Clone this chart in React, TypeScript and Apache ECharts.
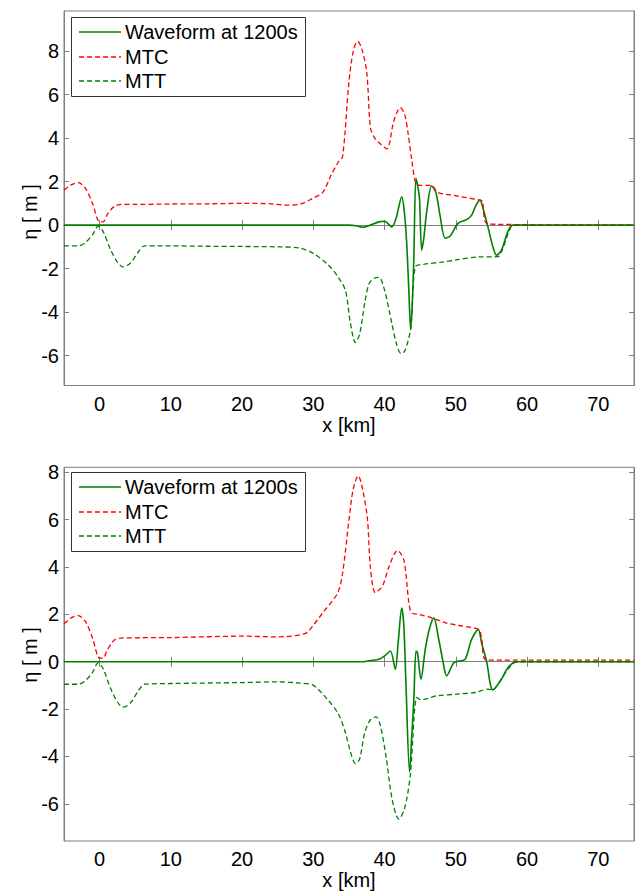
import React, { useEffect, useRef } from "react";
import * as echarts from "echarts";

const xTicks = [0, 10, 20, 30, 40, 50, 60, 70];
const yTicks = [-6, -4, -2, 0, 2, 4, 6, 8];
const legendNames = ["Waveform at 1200s", "MTC", "MTT"];
const yName = "η [ m ]";

// Top panel
const topWave = [
  [-5, 0], [30, 0], [35, 0], [36, -0.03], [37, -0.1], [38, 0], [39.2, 0.15], [40, 0.18], [41, -0.08],
  [41.6, 0.3], [42.4, 1.3], [42.8, 0.5], [43.1, -0.84], [43.4, -3.0], [43.65, -4.8], [43.9, -3.5],
  [44.1, -1.5], [44.4, 2.15], [44.7, 1.7], [44.9, 1.2], [45.2, -1.15], [45.5, -0.6], [45.9, 0.6],
  [46.6, 1.8], [47.2, 1.5], [47.8, 0.4], [48.5, -0.6], [49.2, -0.5], [50.3, 0.08], [51.5, 0.25],
  [52.2, 0.45], [52.8, 0.9], [53.4, 1.15], [53.7, 0.9], [54.5, -0.08], [55.2, -1.0], [55.7, -1.38],
  [56.4, -1.15], [57.3, -0.3], [58, 0], [75, 0],
];
const topMTC = [
  [-5, 1.6], [-4, 1.85], [-3, 1.95], [-2, 1.7], [-1, 1.0], [0, 0.15], [0.5, 0.15], [1, 0.45], [2, 0.85],
  [3, 0.95], [5, 0.95], [10, 0.97], [15, 0.98], [20, 1.0], [24, 0.98], [26, 0.92], [28, 0.95], [30, 1.25],
  [31.3, 1.5], [32.5, 2.3], [33.5, 2.9], [34.1, 3.15], [35, 6.6], [35.6, 8.0], [36.2, 8.45], [36.8, 8.1],
  [37.5, 7.0], [38, 4.5], [38.6, 4.0], [39.2, 3.8], [40.3, 3.5], [41.3, 4.8], [42.2, 5.4], [42.8, 5.1],
  [43.3, 4.2], [43.8, 3.0], [44.3, 2.0], [44.7, 1.84], [46.6, 1.82], [47.5, 1.5], [50, 1.35], [53.3, 1.15],
  [53.7, 1.1], [54.5, 0.05], [75, 0],
];
const topMTT = [
  [-5, -0.95], [-3, -0.95], [-2, -0.8], [-1, -0.45], [-0.2, -0.05], [0.5, -0.3], [1.5, -1.1], [2.5, -1.7],
  [3.3, -1.92], [4.3, -1.75], [5.5, -1.2], [6.3, -0.95], [8, -0.95], [15, -0.97], [20, -0.98], [25, -1.0],
  [28, -1.05], [30, -1.3], [32, -1.8], [33.5, -2.4], [34.5, -3.0], [35.2, -4.5], [35.9, -5.4], [36.5, -5.0],
  [37.2, -3.6], [37.8, -2.7], [38.5, -2.45], [39.2, -2.4], [40, -3.0], [41, -4.5], [41.7, -5.5], [42.3, -5.9],
  [42.8, -5.8], [43.3, -5.3], [43.7, -4.7], [44.3, -1.92], [45.5, -1.8], [48, -1.7], [50, -1.6], [53.2, -1.46],
  [55.9, -1.45], [56.5, -1.15], [57, -0.7], [57.5, -0.25], [58, 0], [75, 0],
];

// Bottom panel
const botWave = [
  [-5, 0], [37, 0], [38, 0.05], [39.2, 0.1], [40, 0.25], [40.8, 0.45], [41.5, -0.32], [41.9, 0.8],
  [42.4, 2.27], [42.7, 1.5], [43.0, -1.0], [43.5, -4.66], [43.8, -3.2], [44.1, -1.58], [44.4, 0.45],
  [44.6, 0.4], [45.1, -0.74], [45.7, 0.52], [46.3, 1.4], [46.9, 1.85], [47.6, 0.94], [48.2, 0.0],
  [48.7, -0.6], [49.7, -0.04], [50.4, 0.03], [51.3, 0.1], [52.2, 0.94], [53.15, 1.36], [53.6, 0.8],
  [54.3, 0.03], [55.2, -1.19], [56.4, -0.74], [57.3, -0.25], [58.5, 0], [75, 0],
];
const botMTC = [
  [-5, 1.6], [-4, 1.85], [-3, 1.95], [-2, 1.7], [-1, 1.0], [0, 0.15], [0.5, 0.15], [1, 0.45], [2, 0.9],
  [3, 1.0], [10, 1.02], [20, 1.08], [25, 1.05], [28.9, 1.2], [30, 1.55], [31.3, 2.06], [33.4, 2.9],
  [34.1, 3.74], [35, 6.0], [35.6, 7.3], [36.3, 7.85], [36.9, 7.3], [37.6, 6.0], [38, 4.0], [38.7, 2.92],
  [39.7, 3.2], [40.6, 4.0], [41.8, 4.7], [42.7, 4.3], [43.4, 2.5], [43.8, 2.06], [44.8, 2.0], [46.6, 1.85],
  [48.6, 1.64], [50.4, 1.53], [53.2, 1.36], [53.6, 1.0], [54.3, 0.07], [75, 0.07],
];
const botMTT = [
  [-5, -0.95], [-3, -0.95], [-2, -0.8], [-1, -0.45], [-0.2, -0.05], [0.5, -0.3], [1.5, -1.1], [2.5, -1.7],
  [3.3, -1.92], [4.3, -1.75], [5.5, -1.2], [6.3, -0.95], [10, -0.92], [20, -0.88], [25, -0.85], [28, -0.9],
  [30, -1.0], [32, -1.6], [33.5, -2.2], [34.5, -3.0], [35.2, -3.8], [35.9, -4.3], [36.5, -4.1], [37.2, -3.0],
  [38, -2.45], [38.8, -2.33], [39.4, -2.7], [40.2, -4.0], [41.05, -5.8], [42, -6.65], [42.8, -6.2],
  [43.6, -4.8], [44.5, -1.51], [45, -1.6], [45.7, -1.58], [47.3, -1.44], [50.1, -1.37], [52.7, -1.3],
  [54.5, -1.16], [55.2, -1.19], [56, -0.9], [57, -0.45], [58, -0.08], [58.7, 0], [75, 0],
];

const AXIS_GRAY = "#808080";
const FONT = "Liberation Sans, Arial, sans-serif";
const GREEN = "#008000";
const RED = "#ff0000";

function xAxes(gridIndex: number) {
  const base = {
    type: "value" as const,
    gridIndex,
    min: -5,
    max: 75,
    splitLine: { show: false },
    axisLine: { lineStyle: { color: AXIS_GRAY, width: 1 } },
    axisTick: { inside: true, length: 5, customValues: xTicks, lineStyle: { color: AXIS_GRAY } },
  };
  return [
    {
      ...base,
      position: "bottom",
      name: "x [km]",
      nameLocation: "middle",
      nameGap: 29,
      nameTextStyle: { color: "#000", fontSize: 20, fontFamily: FONT },
      axisLabel: { customValues: xTicks, color: "#000", fontSize: 20, fontFamily: FONT, margin: 8 },
    },
    { ...base, position: "top", axisLabel: { show: false } },
  ];
}

function yAxes(gridIndex: number, min: number, max: number) {
  const base = {
    type: "value" as const,
    gridIndex,
    min,
    max,
    splitLine: { show: false },
    axisLine: { onZero: false, lineStyle: { color: AXIS_GRAY, width: 1 } },
    axisTick: { inside: true, length: 5, customValues: yTicks, lineStyle: { color: AXIS_GRAY } },
  };
  return [
    {
      ...base,
      position: "left",
      axisLabel: { customValues: yTicks, color: "#000", fontSize: 20, fontFamily: FONT, margin: 5 },
    },
    { ...base, position: "right", axisLabel: { show: false } },
  ];
}

function panelSeries(xi: number, yi: number, wave: number[][], mtc: number[][], mtt: number[][]) {
  const common = { type: "line" as const, xAxisIndex: xi, yAxisIndex: yi, symbol: "none", showSymbol: false, smooth: 0.3 };
  return [
    { ...common, name: legendNames[0], data: wave, lineStyle: { color: GREEN, width: 1.6 }, itemStyle: { color: GREEN } },
    { ...common, name: legendNames[1], data: mtc, lineStyle: { color: RED, width: 1.3, type: [5, 3] }, itemStyle: { color: RED } },
    { ...common, name: legendNames[2], data: mtt, lineStyle: { color: GREEN, width: 1.3, type: [5, 3] }, itemStyle: { color: GREEN } },
  ];
}

function legendGraphic(top: number) {
  const rows = [15, 40, 64];
  const styles = [
    { stroke: GREEN, lineWidth: 1.6 },
    { stroke: RED, lineWidth: 1.3, lineDash: [5, 3] },
    { stroke: GREEN, lineWidth: 1.3, lineDash: [5, 3] },
  ];
  const children: any[] = [
    {
      type: "rect",
      shape: { x: 71.5, y: top + 0.5, width: 234, height: 79 },
      style: { fill: "#fff", stroke: "#333", lineWidth: 1 },
    },
  ];
  legendNames.forEach((name, i) => {
    children.push({
      type: "line",
      shape: { x1: 79, y1: top + rows[i], x2: 121, y2: top + rows[i] },
      style: { ...styles[i], fill: null },
    });
    children.push({
      type: "text",
      x: 125,
      y: top + rows[i],
      style: { text: name, fill: "#000", font: `20px ${FONT}`, textVerticalAlign: "middle", verticalAlign: "middle" },
    });
  });
  return { type: "group", z: 100, children };
}

function yNameGraphic(cy: number) {
  return {
    type: "text",
    x: 30,
    y: cy,
    rotation: Math.PI / 2,
    z: 100,
    style: { text: yName, fill: "#000", font: `20px ${FONT}`, align: "center", verticalAlign: "middle" },
  };
}

export default function App() {
  const ref = useRef<HTMLDivElement>(null);
  useEffect(() => {
    if (!ref.current) return;
    const chart = echarts.init(ref.current, null, { renderer: "svg" });
    chart.setOption({
      animation: false,
      backgroundColor: "#fff",
      grid: [
        { left: 64, top: 11, width: 570, height: 374.5, show: true, borderColor: AXIS_GRAY, borderWidth: 1 },
        { left: 64, top: 467.3, width: 570, height: 375, show: true, borderColor: AXIS_GRAY, borderWidth: 1 },
      ],
      xAxis: [...xAxes(0), ...xAxes(1)],
      yAxis: [...yAxes(0, -7.37, 9.84), ...yAxes(1, -7.57, 8.21)],
      graphic: [legendGraphic(17), legendGraphic(472), yNameGraphic(212), yNameGraphic(655)],
      series: [
        ...panelSeries(0, 0, topWave, topMTC, topMTT),
        ...panelSeries(2, 2, botWave, botMTC, botMTT),
      ],
    });
    return () => chart.dispose();
  }, []);
  return (
    <div
      ref={ref}
      style={{ position: "fixed", left: 0, top: 0, width: 639, height: 891, background: "#fff" }}
    />
  );
}
